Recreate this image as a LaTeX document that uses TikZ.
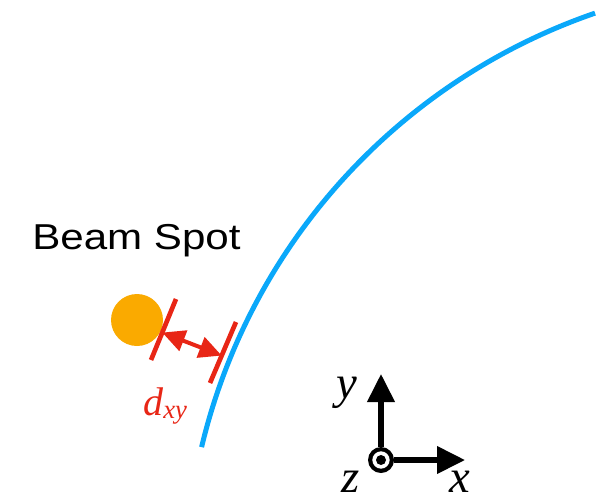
\documentclass[tikz,border=0pt]{standalone}
\usepackage{fontspec}
\setmainfont{Liberation Serif}
\newfontfamily\sansf{Liberation Sans}
\usetikzlibrary{arrows.meta,calc}
\definecolor{tube}{RGB}{10,168,250}
\definecolor{spot}{RGB}{250,170,0}
\definecolor{dred}{RGB}{232,38,22}
\tikzset{
  tick/.style={dred, line width=3.5pt},
  dist/.style={dred, line width=3pt, {Triangle[length=17pt,width=16pt]}-{Triangle[length=17pt,width=16pt]}},
  axis/.style={black, line width=3.8pt, -{Triangle[length=21pt,width=20pt]}},
  axlabel/.style={font=\itshape\fontsize{35}{35}\selectfont, inner sep=0pt}
}
\begin{document}
\begin{tikzpicture}[x=0.75pt,y=-0.75pt]
\useasboundingbox (0,0) rectangle (610,497);
% detector layer
\coordinate (c) at (793,588);
\draw[tube, line width=3.75pt] ([shift={(166.6:456pt)}]c) arc[start angle=166.6, end angle=109, radius=456pt];
% beam spot
\node[circle, fill=spot, minimum size=39pt, inner sep=0pt] (bs) at (137,320) {};
\node[anchor=base west, inner sep=0pt, font=\sansf\fontsize{27}{27}\selectfont] (bslabel) at (32,249) {\scalebox{1.17}[1]{Beam Spot}};
% distance marker
\coordinate (t1a) at (176,299);
\coordinate (t1b) at (151,360);
\coordinate (t2a) at (236,322);
\coordinate (t2b) at (210,383);
\draw[tick] (t1a) -- (t1b);
\draw[tick] (t2a) -- (t2b);
\coordinate (p1) at ($(t1a)!0.55!(t1b)$);
\coordinate (p2) at ($(t2a)!0.55!(t2b)$);
\draw[dist] (p1) -- (p2);
\node[anchor=base west, inner sep=0pt, dred, font=\itshape\fontsize{30}{30}\selectfont] (dl) at (143,415) {d\raisebox{-0.08em}{\fontsize{20}{20}\selectfont xy}};
% axes
\node[circle, fill=black, minimum size=19.5pt, inner sep=0pt] (o) at (381,460) {};
\coordinate (ytip) at (381,374);
\coordinate (xtip) at (465,460);
\draw[axis] (o) -- (ytip);
\draw[axis] (o) -- (xtip);
\node[circle, fill=white, minimum size=13pt, inner sep=0pt] (oring) at (o) {};
\node[circle, fill=black, minimum size=7.5pt, inner sep=0pt] (odot) at (o) {};
\node[axlabel, anchor=base west] (ylab) at (336,398) {y};
\node[axlabel, anchor=base west] (zlab) at (341,492) {z};
\node[axlabel, anchor=base west] (xlab) at (449,492) {x};
\end{tikzpicture}
\end{document}
